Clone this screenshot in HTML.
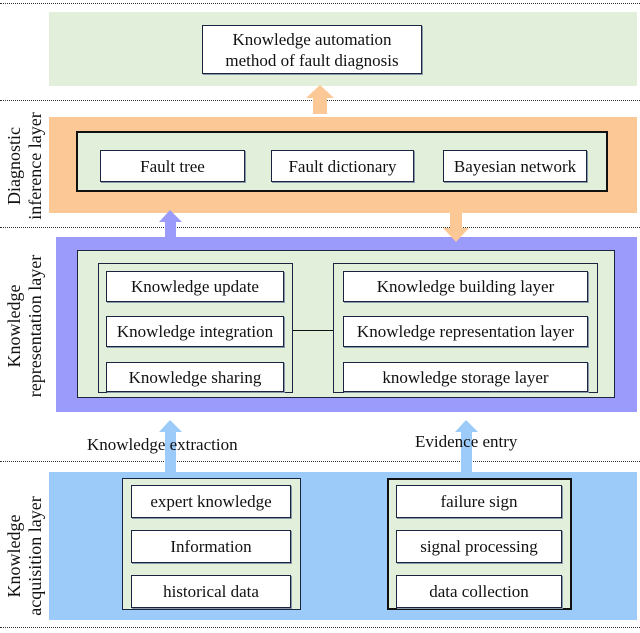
<!DOCTYPE html>
<html><head><style>
body{margin:0;width:640px;height:633px;background:#fff;position:relative;overflow:hidden;font-family:"Liberation Serif",serif;color:#111}
div{position:absolute;box-sizing:border-box}
.dot{left:0;width:640px;height:0;border-top:1.5px dotted #333}
.box{background:#fff;border:1.5px solid #1a2440;display:flex;align-items:center;justify-content:center;font-size:17px;text-align:center;line-height:21px;box-shadow:1px 1px 0 #8899aa;white-space:nowrap}
.grp{background:#e2efda;border:1.5px solid #1a2440}
.lab{font-size:18px;line-height:21px;text-align:center;transform:rotate(-90deg);white-space:nowrap}
</style></head><body>
<div class="dot" style="top:3px"></div>
<div class="dot" style="top:100px"></div>
<div class="dot" style="top:227px"></div>
<div class="dot" style="top:461px"></div>
<div class="dot" style="top:627px"></div>

<div style="left:49px;top:12px;width:588px;height:74px;background:#e2efda"></div>
<div class="box" style="left:202px;top:25px;width:220px;height:49px">Knowledge automation<br>method of fault diagnosis</div>

<div style="left:49px;top:117px;width:588px;height:96px;background:#fbc896"></div>
<div class="grp" style="left:76px;top:131px;width:532px;height:61px;border:2px solid #111"></div>
<div class="box" style="left:100px;top:150px;width:145px;height:32px">Fault tree</div>
<div class="box" style="left:271px;top:150px;width:143px;height:32px">Fault dictionary</div>
<div class="box" style="left:443px;top:150px;width:144px;height:32px">Bayesian network</div>

<div style="left:56px;top:237px;width:581px;height:175px;background:#9b9bfb"></div>
<div class="grp" style="left:77px;top:250px;width:538px;height:148px"></div>
<div class="grp" style="left:98px;top:263px;width:195px;height:130px"></div>
<div class="grp" style="left:333px;top:263px;width:265px;height:130px"></div>
<div style="left:293px;top:330px;width:40px;height:0;border-top:1.5px solid #111"></div>
<div class="box" style="left:106px;top:271px;width:178px;height:31px">Knowledge update</div>
<div class="box" style="left:106px;top:316px;width:178px;height:31px">Knowledge integration</div>
<div class="box" style="left:106px;top:362px;width:178px;height:30px">Knowledge sharing</div>
<div class="box" style="left:343px;top:271px;width:245px;height:31px">Knowledge building layer</div>
<div class="box" style="left:343px;top:316px;width:245px;height:31px">Knowledge representation layer</div>
<div class="box" style="left:343px;top:362px;width:245px;height:30px">knowledge storage layer</div>

<div style="left:49px;top:472px;width:588px;height:148px;background:#9ccbf9"></div>
<div class="grp" style="left:122px;top:478px;width:179px;height:132px"></div>
<div class="grp" style="left:387px;top:478px;width:185px;height:132px;border:2px solid #111"></div>
<div class="box" style="left:131px;top:485px;width:160px;height:33px">expert knowledge</div>
<div class="box" style="left:131px;top:530px;width:160px;height:33px">Information</div>
<div class="box" style="left:131px;top:575px;width:160px;height:33px">historical data</div>
<div class="box" style="left:396px;top:485px;width:166px;height:33px">failure sign</div>
<div class="box" style="left:396px;top:530px;width:166px;height:33px">signal processing</div>
<div class="box" style="left:396px;top:575px;width:166px;height:33px">data collection</div>

<svg style="position:absolute;left:0;top:0" width="640" height="633">
<polygon points="313,114 313,98 306,98 320,85 334,98 327,98 327,114" fill="#fbc896"/>
<polygon points="165,237 165,222 159,222 170,210 182,222 176,222 176,237" fill="#9b9bfb"/>
<polygon points="450,212 450,228 443,228 456,242 469,228 462,228 462,212" fill="#fbc896"/>
<polygon points="165,472 165,432 159,432 170,420 182,432 176,432 176,472" fill="#9ccbf9"/>
<polygon points="461,472 461,432 455,432 466,420 478,432 472,432 472,472" fill="#9ccbf9"/>
</svg>
<div style="left:87px;top:435px;font-size:17px;white-space:nowrap">Knowledge extraction</div>
<div style="left:415px;top:432px;font-size:17px;white-space:nowrap">Evidence entry</div>

<div class="lab" style="left:-40px;top:145px;width:130px">Diagnostic<br>inference layer</div>
<div class="lab" style="left:-55px;top:305px;width:160px">Knowledge<br>representation layer</div>
<div class="lab" style="left:-45px;top:535px;width:140px">Knowledge<br>acquisition layer</div>
</body></html>
